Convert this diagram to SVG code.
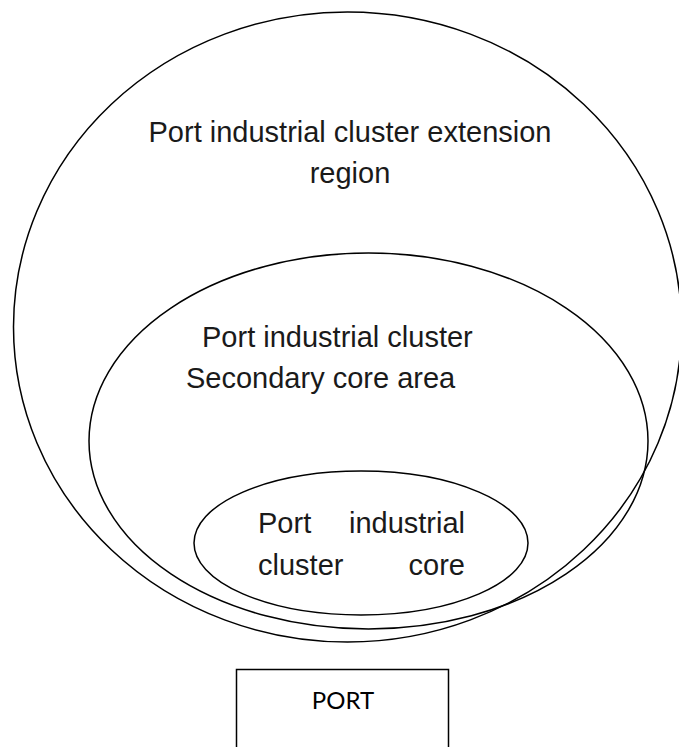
<svg xmlns="http://www.w3.org/2000/svg" width="679" height="747" viewBox="0 0 679 747">
<style>
.shape{fill:none;stroke:#000;stroke-width:1.5}
.lbl{font-family:"Liberation Sans",Arial,sans-serif;font-size:29px;fill:#1a1a1a}
.port{font-family:Lato,"Open Sans",sans-serif;font-size:24px;fill:#000}
</style>
<rect width="679" height="747" fill="#fff"/>
<g id="extension-region">
<ellipse class="shape" cx="347.5" cy="327" rx="334" ry="315"/>
<text class="lbl" x="350" y="142" text-anchor="middle">Port industrial cluster extension</text>
<text class="lbl" x="350" y="183" text-anchor="middle">region</text>
</g>
<g id="secondary-core">
<ellipse class="shape" cx="368.5" cy="441" rx="279.5" ry="188"/>
<text class="lbl" x="202" y="347">Port industrial cluster</text>
<text class="lbl" x="186" y="388">Secondary core area</text>
</g>
<g id="core">
<ellipse class="shape" cx="361" cy="543" rx="167" ry="72"/>
<text class="lbl" x="258" y="533">Port</text>
<text class="lbl" x="465" y="533" text-anchor="end">industrial</text>
<text class="lbl" x="258" y="575">cluster</text>
<text class="lbl" x="465" y="575" text-anchor="end">core</text>
</g>
<g id="port">
<path class="shape" d="M236.5,748 V669.5 H448.5 V748"/>
<text class="port" x="343" y="709" text-anchor="middle">PORT</text>
</g>
<g id="connectors"/>
</svg>
